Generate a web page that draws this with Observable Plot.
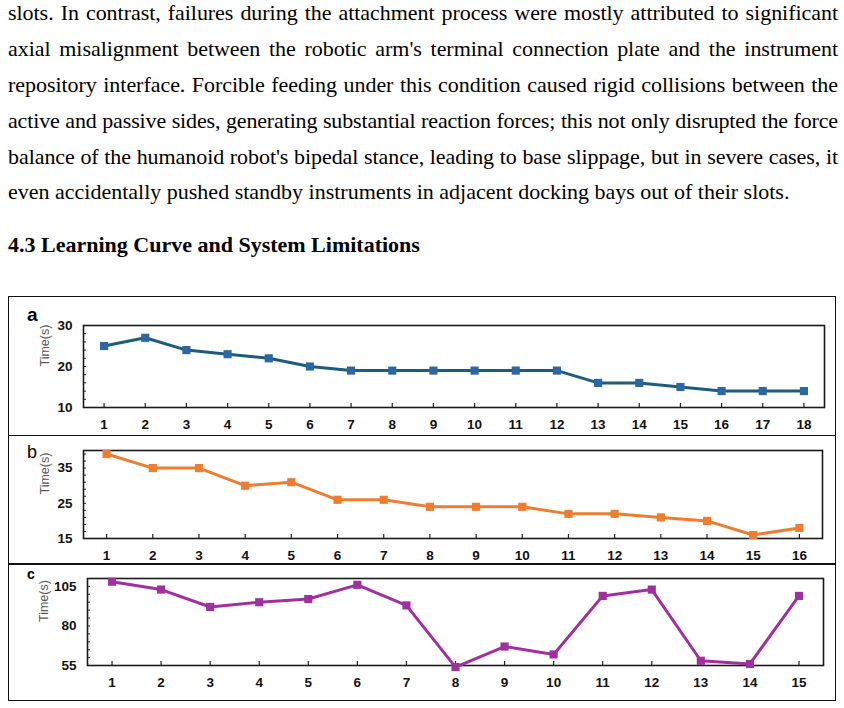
<!DOCTYPE html>
<html><head><meta charset="utf-8">
<script src="https://cdn.jsdelivr.net/npm/d3@7"></script>
<script src="https://cdn.jsdelivr.net/npm/@observablehq/plot@0.6"></script>
<style>
html,body{margin:0;padding:0;background:#fff;}
body{width:844px;height:708px;overflow:hidden;position:relative;font-family:"Liberation Serif","Times New Roman",serif;color:#000;}
.tl{position:absolute;left:8px;width:830px;font-size:22px;line-height:22px;height:22px;white-space:nowrap;text-align:justify;text-align-last:justify;}
.tl.last{text-align:left;text-align-last:left;}
.hd{position:absolute;left:8px;font-size:22px;line-height:22px;font-weight:bold;white-space:nowrap;}
.panel{position:absolute;left:8px;width:828px;box-sizing:border-box;border:1.5px solid #111;}
.plab{position:absolute;font-family:"Liberation Sans",Arial,sans-serif;line-height:18px;height:18px;color:#000;}
.chart{position:absolute;left:0;}
</style></head>
<body>
<div id="text"></div>
<div class="panel" style="top:296px;height:140px"></div>
<div class="panel" style="top:434.5px;height:130px"></div>
<div class="panel" style="top:563px;height:138px"></div>
<div class="plab" style="left:27px;top:306px;font-size:19px;font-weight:bold">a</div>
<div class="plab" style="left:27px;top:443px;font-size:18px;">b</div>
<div class="plab" style="left:27px;top:565px;font-size:14px;font-weight:bold">c</div>
<div id="ca" class="chart" style="top:296px"></div>
<div id="cb" class="chart" style="top:435px"></div>
<div id="cc" class="chart" style="top:563px"></div>
<script>
const paragraphLines = [
  "slots. In contrast, failures during the attachment process were mostly attributed to significant",
  "axial misalignment between the robotic arm's terminal connection plate and the instrument",
  "repository interface. Forcible feeding under this condition caused rigid collisions between the",
  "active and passive sides, generating substantial reaction forces; this not only disrupted the force",
  "balance of the humanoid robot's bipedal stance, leading to base slippage, but in severe cases, it",
  "even accidentally pushed standby instruments in adjacent docking bays out of their slots."
];
const heading = "4.3 Learning Curve and System Limitations";

const trialsA = d3.range(1, 19);
const timeA = [25, 27, 24, 23, 22, 20, 19, 19, 19, 19, 19, 19, 16, 16, 15, 14, 14, 14];
const trialsB = d3.range(1, 17);
const timeB = [39, 35, 35, 30, 31, 26, 26, 24, 24, 24, 22, 22, 21, 20, 16, 18];
const trialsC = d3.range(1, 16);
const timeC = [108, 103, 92, 95, 97, 106, 93, 54, 67, 62, 99, 103, 58, 56, 99];

const yMajorA = [10, 20, 30], yMinorA = d3.range(10, 31, 2);
const yMajorB = [15, 25, 35], yMinorB = d3.range(15, 41, 2);
const yMajorC = [55, 80, 105], yMinorC = d3.range(55, 111, 5);
const yLabel = "Time(s)";

// text
const tc = document.getElementById("text");
const LINE_W = 830;
paragraphLines.forEach((s, i) => {
  const d = document.createElement("div");
  d.className = "tl" + (i === paragraphLines.length - 1 ? " last" : "");
  d.style.top = (2.3 + i * 35.8) + "px";
  const sp = document.createElement("span");
  sp.textContent = s;
  d.appendChild(sp);
  tc.appendChild(d);
  const w = sp.getBoundingClientRect().width;
  if (w > LINE_W - 2) {
    d.style.letterSpacing = (-(w - LINE_W + 4) / s.length) + "px";
  }
});
const h = document.createElement("div");
h.className = "hd"; h.style.top = "233.6px"; h.textContent = heading;
tc.appendChild(h);

function panel({trials, times, color, lineColor, xDomain, yDomain, yMajor, yMinor, height, mt, mb, ml, mr, labelDx}) {
  const data = trials.map((t, i) => ({t, v: times[i]}));
  const W = 844;
  const pw = W - ml - mr, ph = height - mt - mb;
  return Plot.plot({
    width: W, height,
    marginTop: mt, marginBottom: mb, marginLeft: ml, marginRight: mr,
    style: {fontFamily: "'Liberation Sans', Arial, sans-serif", fontSize: "13.5px", background: "transparent", overflow: "visible"},
    x: {domain: xDomain, axis: null},
    y: {domain: yDomain, axis: null},
    marks: [
      Plot.ruleY(yMinor, {stroke: "#222", strokeWidth: 1, insetRight: pw - 3}),
      Plot.ruleX(trials, {stroke: "#222", strokeWidth: 1.2, insetTop: ph - 4}),
      Plot.axisY(yMajor, {tickSize: 0, tickPadding: 11, fontWeight: "bold", label: null, fill: "#111"}),
      Plot.axisX(trials, {tickSize: 0, tickPadding: 12, fontWeight: "bold", label: null, fill: "#111"}),
      Plot.text([yLabel], {frameAnchor: "left", text: d => d, rotate: -90, dx: labelDx, fill: "#595959", fontSize: 12.5, fontWeight: "normal"}),
      Plot.frame({stroke: "#1a1a1a", strokeWidth: 1.6}),
      Plot.line(data, {x: "t", y: "v", stroke: lineColor, strokeWidth: 3}),
      Plot.dot(data, {x: "t", y: "v", symbol: "square", fill: color, r: 4.6})
    ]
  });
}

document.getElementById("ca").appendChild(panel({
  trials: trialsA, times: timeA, color: "#2b67a3", lineColor: "#1d5c7c",
  xDomain: [0.5, 18.5], yDomain: [10, 30], yMajor: yMajorA, yMinor: yMinorA,
  height: 139, mt: 29, mb: 28, ml: 83, mr: 20, labelDx: -38.5
}));
document.getElementById("cb").appendChild(panel({
  trials: trialsB, times: timeB, color: "#ed7d31", lineColor: "#ed7d31",
  xDomain: [0.5, 16.5], yDomain: [15, 40], yMajor: yMajorB, yMinor: yMinorB,
  height: 128, mt: 15, mb: 25, ml: 83, mr: 22, labelDx: -39
}));
document.getElementById("cc").appendChild(panel({
  trials: trialsC, times: timeC, color: "#a0309e", lineColor: "#a0309e",
  xDomain: [0.5, 15.5], yDomain: [55, 110], yMajor: yMajorC, yMinor: yMinorC,
  height: 138, mt: 15, mb: 36, ml: 87, mr: 21, labelDx: -44
}));
</script>
</body></html>
